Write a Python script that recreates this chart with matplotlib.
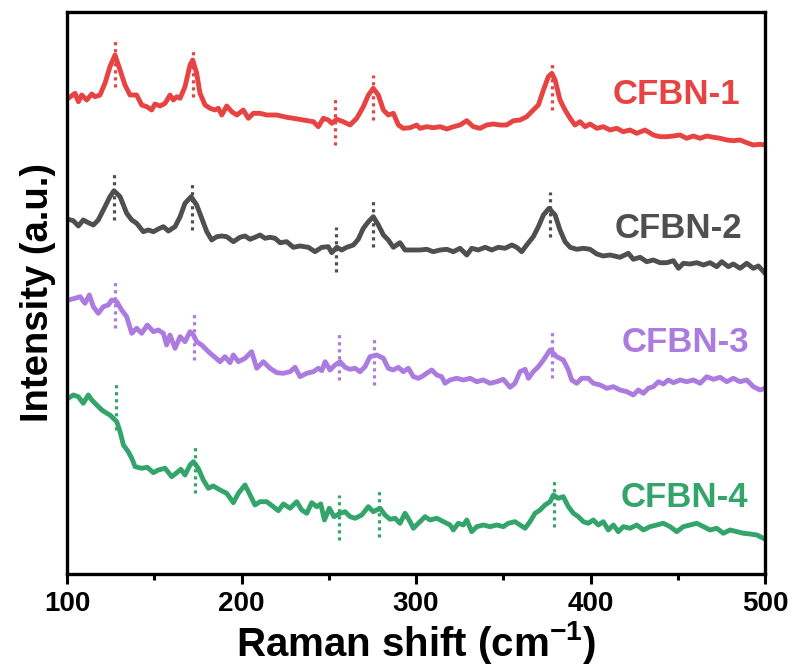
import matplotlib
matplotlib.use('Agg')
import matplotlib.pyplot as plt
import numpy as np

plt.rcParams['font.family'] = ['Liberation Sans', 'DejaVu Sans']
plt.rcParams['font.weight'] = 'bold'
plt.rcParams['mathtext.fontset'] = 'custom'
plt.rcParams['mathtext.rm'] = 'Liberation Sans:bold'
plt.rcParams['mathtext.bf'] = 'Liberation Sans:bold'
plt.rcParams['mathtext.default'] = 'bf'

#-----------------------------------------------------------------------------------------------------------------------
# Raman spectra, (shift in cm-1, intensity in a.u. with vertical offset)
cfbn1 = np.array([
    [100.7, 475.7], [104.6, 480.7], [106.5, 472.3], [108.4, 479.0], [111.3, 474.0], [114.2, 480.0], [116.0, 477.3],
    [118.9, 479.0], [121.8, 491.0], [124.6, 507.3], [127.5, 519.0], [130.4, 504.0], [133.2, 489.0], [136.1, 479.0],
    [139.9, 479.0], [142.8, 469.0], [145.7, 467.3], [148.5, 464.0], [150.4, 470.0], [153.3, 468.0], [156.2, 470.7],
    [159.0, 479.0], [160.9, 474.0], [162.9, 477.3], [164.8, 475.7], [167.6, 487.3], [170.5, 509.0], [172.0, 514.0],
    [174.3, 500.7], [176.2, 480.7], [179.1, 469.0], [182.0, 465.7], [184.8, 464.0], [186.7, 465.7], [188.7, 459.0],
    [191.5, 468.0], [194.4, 462.3], [197.3, 459.0], [201.0, 464.0], [203.9, 455.7], [206.8, 460.7], [210.6, 460.7],
    [214.4, 459.0], [220.2, 459.0], [225.9, 456.7], [229.7, 455.7], [235.4, 454.0], [241.2, 452.3], [244.0, 447.3],
    [246.9, 455.7], [249.8, 454.0], [251.7, 450.7], [254.6, 454.7], [258.3, 452.3], [262.2, 449.0], [266.0, 455.7],
    [269.8, 467.3], [272.7, 479.0], [275.5, 485.7], [278.4, 479.0], [281.3, 464.0], [284.1, 459.0], [287.0, 460.7],
    [289.9, 449.0], [292.7, 445.7], [296.6, 446.3], [300.4, 449.0], [302.3, 445.7], [306.1, 447.3], [309.9, 446.3],
    [313.8, 447.3], [317.6, 445.0], [321.4, 447.3], [325.2, 449.0], [329.1, 453.3], [332.8, 447.3], [336.7, 445.7],
    [340.5, 449.0], [344.3, 450.0], [348.1, 449.0], [351.9, 449.0], [355.8, 453.3], [359.6, 454.0], [363.4, 457.3],
    [367.2, 464.0], [370.1, 469.0], [373.0, 484.0], [375.8, 497.3], [377.8, 500.7], [379.7, 494.0], [382.5, 474.0],
    [385.4, 464.0], [388.3, 455.7], [391.1, 449.0], [394.0, 452.3], [396.9, 447.3], [399.7, 450.0], [403.6, 445.7],
    [407.3, 447.3], [411.2, 444.0], [415.0, 445.7], [418.8, 442.3], [422.6, 444.0], [426.5, 440.7], [431.2, 444.0],
    [436.0, 439.0], [439.8, 437.3], [443.7, 437.3], [447.5, 438.0], [451.3, 439.0], [455.1, 435.7], [458.9, 438.0],
    [462.8, 435.7], [466.6, 438.0], [470.4, 436.7], [474.2, 435.7], [478.1, 434.0], [481.8, 433.3], [485.7, 434.0],
    [489.5, 431.3], [493.3, 429.0], [497.1, 429.7], [500.0, 429.0],
])

cfbn2 = np.array([
    [100.7, 354.7], [103.6, 353.3], [106.5, 348.0], [109.3, 354.0], [112.2, 351.3], [115.1, 349.0], [117.9, 354.0],
    [120.8, 364.0], [124.6, 377.3], [126.9, 383.3], [130.4, 377.3], [134.2, 360.7], [137.1, 354.0], [139.9, 350.7],
    [143.7, 342.3], [146.6, 344.0], [149.5, 342.3], [152.3, 345.0], [155.2, 347.3], [158.1, 343.0], [161.9, 347.3],
    [164.8, 357.3], [167.6, 370.7], [171.1, 377.3], [174.3, 369.0], [177.2, 355.7], [180.1, 342.3], [182.9, 334.0],
    [185.8, 337.3], [188.7, 338.0], [191.5, 337.3], [195.3, 332.3], [199.1, 336.7], [202.0, 338.0], [204.9, 334.7],
    [207.7, 336.7], [210.6, 339.0], [213.5, 335.7], [216.3, 336.7], [219.2, 335.7], [222.1, 331.3], [225.9, 332.3],
    [229.7, 326.7], [233.5, 328.0], [238.3, 326.7], [242.1, 322.3], [246.0, 326.7], [249.7, 327.3], [251.7, 321.3],
    [254.6, 326.7], [257.4, 324.0], [260.3, 326.7], [264.1, 329.0], [266.9, 334.7], [269.8, 345.7], [272.7, 352.3],
    [275.5, 357.3], [278.4, 349.0], [281.3, 339.0], [284.1, 334.0], [287.0, 326.7], [290.8, 331.3], [293.7, 324.0],
    [298.5, 324.0], [302.3, 324.0], [306.1, 324.7], [309.9, 322.3], [313.8, 324.0], [317.6, 324.7], [321.4, 322.3],
    [325.2, 325.7], [329.1, 319.0], [331.9, 325.7], [335.7, 324.0], [339.6, 326.7], [343.4, 324.0], [347.2, 326.7],
    [351.0, 325.7], [354.9, 329.0], [357.7, 326.7], [360.6, 322.3], [363.4, 329.0], [367.2, 337.3], [370.1, 347.3],
    [373.0, 359.0], [376.2, 365.7], [379.7, 359.0], [382.5, 344.0], [385.4, 332.3], [388.3, 326.7], [392.1, 324.7],
    [395.9, 325.7], [399.7, 324.7], [403.6, 320.0], [407.3, 318.0], [411.2, 319.0], [416.9, 316.7], [421.7, 320.7],
    [424.5, 314.7], [428.4, 316.7], [432.2, 312.3], [436.0, 314.0], [439.8, 311.3], [443.7, 311.3], [447.5, 313.3],
    [450.4, 305.7], [453.2, 310.7], [457.0, 310.0], [460.9, 311.3], [464.7, 309.0], [468.5, 311.3], [472.3, 307.3],
    [475.2, 312.3], [479.0, 307.3], [481.8, 310.0], [485.7, 305.7], [489.5, 310.7], [493.3, 305.7], [496.2, 308.0],
    [500.0, 300.7],
])

cfbn3 = np.array([
    [100.7, 274.0], [104.6, 275.7], [107.5, 277.3], [110.3, 270.7], [112.8, 279.0], [115.1, 267.3], [117.9, 260.7],
    [120.8, 267.3], [123.7, 269.0], [125.6, 274.0], [128.5, 272.3], [131.3, 264.0], [134.2, 257.3], [137.1, 240.7],
    [139.9, 245.7], [142.8, 240.7], [146.0, 249.0], [149.5, 242.3], [152.3, 244.0], [155.2, 240.7], [157.1, 229.0],
    [159.0, 239.0], [161.9, 225.7], [164.8, 237.3], [167.6, 232.3], [170.5, 242.3], [172.4, 239.0], [174.3, 232.3],
    [177.2, 229.0], [181.0, 222.3], [184.8, 216.7], [187.7, 212.3], [190.5, 217.3], [193.4, 211.3], [195.3, 219.0],
    [198.2, 212.3], [202.0, 215.7], [205.8, 222.3], [208.7, 205.7], [212.5, 212.3], [216.3, 205.7], [220.2, 201.3],
    [224.0, 200.7], [227.8, 202.3], [230.7, 206.7], [233.5, 197.3], [237.4, 200.7], [241.2, 202.3], [244.0, 205.7],
    [246.0, 203.3], [247.9, 212.3], [250.7, 204.0], [253.6, 209.0], [256.5, 212.3], [259.3, 206.7], [262.2, 204.7],
    [265.1, 205.7], [267.9, 202.3], [270.8, 207.3], [273.6, 217.3], [277.5, 219.0], [281.3, 215.7], [284.1, 205.7],
    [287.0, 204.0], [289.9, 206.7], [292.7, 202.3], [295.6, 205.7], [298.5, 197.3], [301.3, 195.7], [303.3, 197.3],
    [306.1, 200.7], [309.0, 204.0], [311.9, 199.0], [314.7, 197.3], [316.6, 190.7], [319.5, 194.0], [323.3, 195.7],
    [327.1, 194.0], [331.0, 195.7], [334.8, 192.3], [338.6, 194.0], [342.4, 190.7], [346.3, 192.3], [350.0, 194.7],
    [353.9, 186.7], [356.7, 190.7], [359.6, 202.3], [362.5, 204.7], [364.4, 195.7], [367.2, 202.3], [370.1, 207.3],
    [373.0, 214.0], [376.8, 224.0], [380.6, 217.3], [384.4, 214.0], [387.3, 204.0], [389.2, 194.0], [392.1, 190.7],
    [394.9, 195.7], [398.7, 195.7], [401.6, 190.7], [405.5, 189.0], [409.3, 185.7], [413.1, 187.3], [416.9, 184.0],
    [420.8, 182.3], [424.5, 179.0], [427.4, 184.0], [430.3, 180.7], [433.1, 185.7], [436.0, 187.3], [438.9, 192.3],
    [441.7, 190.0], [444.6, 194.0], [447.5, 191.3], [451.3, 194.0], [455.1, 192.3], [458.9, 194.0], [462.8, 190.7],
    [466.6, 197.3], [470.4, 194.7], [474.2, 196.7], [478.1, 192.3], [481.8, 195.7], [485.7, 192.3], [489.5, 194.0],
    [493.3, 187.3], [497.1, 184.0], [500.0, 185.7],
])

cfbn4 = np.array([
    [100.7, 175.7], [103.6, 179.0], [106.5, 177.3], [109.3, 170.7], [112.2, 179.0], [114.2, 174.0], [117.0, 169.0],
    [119.9, 164.0], [122.8, 160.7], [124.6, 159.0], [126.5, 155.7], [128.5, 152.3], [130.4, 142.3], [132.3, 129.0],
    [135.1, 122.3], [137.1, 115.7], [139.0, 107.3], [142.8, 105.7], [146.0, 106.7], [149.5, 101.3], [152.3, 104.0],
    [156.2, 105.7], [160.0, 97.3], [162.9, 101.3], [165.2, 104.7], [167.6, 99.0], [170.5, 109.0], [172.4, 112.3],
    [175.2, 105.7], [178.1, 94.0], [181.0, 85.7], [183.8, 88.0], [187.7, 84.0], [191.5, 80.7], [195.3, 71.3],
    [198.2, 80.7], [202.0, 89.0], [204.9, 79.0], [207.7, 69.0], [210.6, 72.3], [214.4, 72.3], [218.2, 67.3],
    [221.1, 63.3], [224.0, 70.0], [227.8, 65.7], [231.6, 72.3], [234.5, 64.0], [237.4, 60.7], [240.2, 71.3],
    [243.1, 67.3], [245.4, 70.0], [247.5, 54.0], [250.3, 65.7], [253.0, 57.3], [256.5, 60.7], [259.3, 62.3],
    [262.2, 57.3], [265.1, 55.7], [268.9, 59.0], [272.7, 67.3], [275.5, 62.3], [279.4, 65.7], [282.2, 59.0],
    [285.1, 54.7], [288.0, 55.7], [290.8, 50.7], [293.7, 60.7], [296.6, 52.3], [298.5, 45.7], [301.3, 50.7],
    [302.3, 52.3], [305.2, 57.3], [308.0, 54.0], [311.9, 55.7], [315.7, 52.3], [319.5, 49.0], [321.4, 44.0],
    [324.2, 50.7], [327.1, 49.0], [329.1, 54.0], [331.9, 42.3], [334.8, 47.3], [338.6, 49.0], [342.4, 47.3],
    [346.3, 49.0], [350.0, 47.3], [352.9, 50.7], [356.7, 52.3], [359.6, 49.0], [362.5, 45.7], [365.3, 52.3],
    [368.2, 60.7], [371.1, 64.0], [373.9, 69.0], [376.8, 72.3], [378.7, 79.0], [381.5, 75.7], [384.4, 77.3],
    [387.3, 67.3], [390.2, 60.7], [393.0, 57.3], [395.9, 52.3], [398.7, 50.7], [401.6, 54.0], [404.5, 49.0],
    [407.3, 52.3], [410.2, 44.0], [413.1, 49.0], [415.9, 42.3], [418.8, 47.3], [422.6, 45.7], [426.5, 49.0],
    [430.3, 44.0], [434.1, 47.3], [438.0, 49.0], [441.7, 50.7], [445.6, 47.3], [449.4, 42.3], [453.2, 47.3],
    [457.0, 49.0], [460.9, 50.7], [464.7, 47.3], [468.5, 44.0], [472.3, 45.7], [476.1, 40.7], [480.0, 44.0],
    [483.8, 42.3], [487.6, 40.7], [491.4, 40.0], [495.3, 39.0], [499.1, 35.7],
])

# Peak markers: (position, lower end, upper end)
marks1 = [(127.5, 487, 534), (172.0, 477, 524), (253.6, 429, 476), (275.6, 454, 499), (377.8, 464, 511)]
marks2 = [(127.0, 354, 401), (171.6, 344, 391), (254.0, 302, 347), (275.3, 327, 374), (376.8, 337, 382)]
marks3 = [(127.5, 246, 293), (172.6, 214, 261), (255.9, 194, 241), (276.0, 189, 236), (377.8, 196, 242)]
marks4 = [(127.9, 144, 191), (173.2, 81, 127), (256.0, 34, 79), (278.8, 37, 84), (379.1, 47, 94)]

names = ['CFBN-1', 'CFBN-2', 'CFBN-3', 'CFBN-4']
colors = ['#E84343', '#4F4F4F', '#AC7BDF', '#33A56B']
label_x = [449, 450.6, 454.6, 453.5]
label_y = [480, 345, 231, 76]

#-----------------------------------------------------------------------------------------------------------------------
fig = plt.figure(figsize=(7.96, 6.71), dpi=100)
ax = fig.add_axes([0.0842, 0.1446, 0.8769, 0.8375])

for spec, marks, name, c, lx, ly in zip([cfbn1, cfbn2, cfbn3, cfbn4], [marks1, marks2, marks3, marks4],
                                        names, colors, label_x, label_y):
    ax.plot(spec[:, 0], spec[:, 1], color=c, linewidth=3.5, solid_joinstyle='round')
    for xm, lo, hi in marks:
        ax.plot([xm, xm], [lo, hi], color=c, linewidth=2.3, linestyle=(0, (1, 1.2)))
    ax.text(lx, ly, name, color=c, fontsize=25, fontweight='bold', ha='center', va='center')

ax.set_xlim(100, 500)
ax.set_ylim(0, 562)
ax.set_xticks([100, 200, 300, 400, 500])
ax.set_xticks([150, 250, 350, 450], minor=True)
ax.set_yticks([])
ax.tick_params(axis='x', which='major', length=7, width=2.2, labelsize=20, pad=5)
ax.tick_params(axis='x', which='minor', length=4, width=2.2)
for s in ax.spines.values():
    s.set_linewidth(2.4)
for lab in ax.get_xticklabels():
    lab.set_fontweight('bold')

ax.set_xlabel(r'Raman shift (cm$^{-1}$)', fontsize=29, fontweight='bold', labelpad=2)
ax.set_ylabel('Intensity (a.u.)', fontsize=27.5, fontweight='bold', labelpad=8)

fig.savefig('out.png', dpi=100)
